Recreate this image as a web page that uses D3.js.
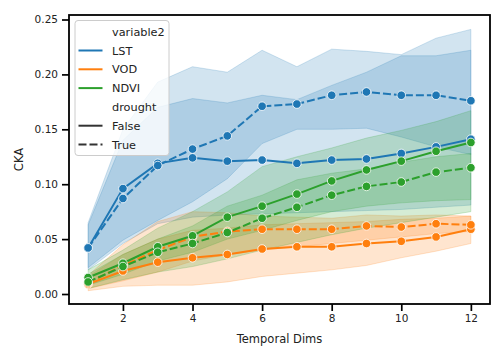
<!DOCTYPE html>
<html>
<head>
<meta charset="utf-8">
<script src="https://cdn.jsdelivr.net/npm/d3@7"></script>
<style>
  body { margin: 0; background: #fff; }
  svg { font-family: "DejaVu Sans", sans-serif; }
</style>
</head>
<body>
<div id="chart"></div>
<script>
// temporal dims on the x axis
const dims = [1, 2, 3, 4, 5, 6, 7, 8, 9, 10, 11, 12];
const variables = ["LST", "VOD", "NDVI"];
const droughtLevels = ["False", "True"];
const xTicks = [2, 4, 6, 8, 10, 12];
const yTicks = [0, 0.05, 0.1, 0.15, 0.2, 0.25];

// mean CKA and confidence band per (variable, drought)
const lstFalseMean = [0.042, 0.096, 0.119, 0.124, 0.121, 0.122, 0.119, 0.122, 0.123, 0.128, 0.134, 0.141];
const lstFalseLow = [0.022, 0.046, 0.064, 0.070, 0.072, 0.073, 0.074, 0.075, 0.076, 0.077, 0.079, 0.081];
const lstFalseHigh = [0.063, 0.140, 0.170, 0.178, 0.174, 0.181, 0.177, 0.190, 0.202, 0.217, 0.217, 0.222];

const lstTrueMean = [0.042, 0.087, 0.117, 0.132, 0.144, 0.171, 0.173, 0.181, 0.184, 0.181, 0.181, 0.176];
const lstTrueLow = [0.024, 0.049, 0.067, 0.084, 0.105, 0.137, 0.150, 0.150, 0.151, 0.143, 0.134, 0.127];
const lstTrueHigh = [0.065, 0.150, 0.193, 0.207, 0.202, 0.222, 0.207, 0.223, 0.221, 0.218, 0.233, 0.241];

const vodFalseMean = [0.009, 0.021, 0.029, 0.033, 0.036, 0.041, 0.043, 0.043, 0.046, 0.048, 0.052, 0.059];
const vodFalseLow = [0.003, 0.007, 0.008, 0.008, 0.011, 0.016, 0.019, 0.022, 0.026, 0.033, 0.039, 0.046];
const vodFalseHigh = [0.016, 0.036, 0.050, 0.058, 0.060, 0.063, 0.064, 0.065, 0.066, 0.068, 0.069, 0.071];

const vodTrueMean = [0.010, 0.026, 0.040, 0.052, 0.057, 0.059, 0.059, 0.059, 0.062, 0.061, 0.064, 0.063];
const vodTrueLow = [0.005, 0.012, 0.020, 0.030, 0.036, 0.040, 0.043, 0.046, 0.049, 0.052, 0.055, 0.057];
const vodTrueHigh = [0.017, 0.045, 0.066, 0.075, 0.074, 0.071, 0.070, 0.069, 0.072, 0.071, 0.072, 0.071];

const ndviFalseMean = [0.015, 0.028, 0.043, 0.053, 0.070, 0.080, 0.091, 0.103, 0.113, 0.121, 0.130, 0.138];
const ndviFalseLow = [0.008, 0.018, 0.030, 0.038, 0.050, 0.058, 0.067, 0.075, 0.080, 0.083, 0.085, 0.086];
const ndviFalseHigh = [0.022, 0.040, 0.060, 0.075, 0.093, 0.116, 0.125, 0.133, 0.142, 0.149, 0.157, 0.167];

const ndviTrueMean = [0.011, 0.025, 0.038, 0.046, 0.056, 0.069, 0.079, 0.090, 0.098, 0.102, 0.111, 0.115];
const ndviTrueLow = [0.005, 0.013, 0.020, 0.025, 0.032, 0.040, 0.047, 0.054, 0.060, 0.065, 0.070, 0.075];
const ndviTrueHigh = [0.018, 0.036, 0.050, 0.062, 0.080, 0.090, 0.104, 0.110, 0.114, 0.120, 0.125, 0.128];

const colors = { LST: "#1f77b4", VOD: "#ff7f0e", NDVI: "#2ca02c" };

// build the series table, same order seaborn draws them
const series = [
  { v: "LST", d: "False", mean: lstFalseMean, lo: lstFalseLow, hi: lstFalseHigh },
  { v: "LST", d: "True", mean: lstTrueMean, lo: lstTrueLow, hi: lstTrueHigh },
  { v: "VOD", d: "False", mean: vodFalseMean, lo: vodFalseLow, hi: vodFalseHigh },
  { v: "VOD", d: "True", mean: vodTrueMean, lo: vodTrueLow, hi: vodTrueHigh },
  { v: "NDVI", d: "False", mean: ndviFalseMean, lo: ndviFalseLow, hi: ndviFalseHigh },
  { v: "NDVI", d: "True", mean: ndviTrueMean, lo: ndviTrueLow, hi: ndviTrueHigh },
].map((s) => ({
  ...s,
  points: dims.map((t, i) => ({ t, y: s.mean[i], lo: s.lo[i], hi: s.hi[i] })),
}));

// svg dimensions and axes box
const W = 504;
const H = 360;
const mLeft = 69, mRight = 490, mTop = 15, mBottom = 304;

const svg = d3
  .select("#chart")
  .append("svg")
  .attr("width", W)
  .attr("height", H);

const xScale = d3.scaleLinear().domain([0.45, 12.55]).range([mLeft, mRight]);
const yScale = d3.scaleLinear().domain([-0.0091, 0.2541]).range([mBottom, mTop]);

const line = d3
  .line()
  .x((d) => xScale(d.t))
  .y((d) => yScale(d.y));

const area = d3
  .area()
  .x((d) => xScale(d.t))
  .y0((d) => yScale(d.lo))
  .y1((d) => yScale(d.hi));

const dashFor = (d) => (d === "True" ? "8,3" : null);

// bands first (they sit under every line)
svg
  .append("g")
  .selectAll("path")
  .data(series)
  .enter()
  .append("path")
  .attr("d", (s) => area(s.points))
  .attr("fill", (s) => colors[s.v])
  .attr("fill-opacity", 0.2)
  .attr("stroke", (s) => colors[s.v])
  .attr("stroke-opacity", 0.2)
  .attr("stroke-width", 1);

// lines with markers
series.forEach((s) => {
  const g = svg.append("g");
  g.append("path")
    .attr("d", line(s.points))
    .attr("fill", "none")
    .attr("stroke", colors[s.v])
    .attr("stroke-width", 2)
    .attr("stroke-dasharray", dashFor(s.d));

  g.selectAll("circle")
    .data(s.points)
    .enter()
    .append("circle")
    .attr("cx", (d) => xScale(d.t))
    .attr("cy", (d) => yScale(d.y))
    .attr("r", 4.3)
    .attr("fill", colors[s.v])
    .attr("stroke", "#fff")
    .attr("stroke-width", 0.8);
});

// axes
const xAxis = d3.axisBottom(xScale).tickValues(xTicks).tickSize(7).tickPadding(4).tickFormat(d3.format("d"));
const yAxis = d3.axisLeft(yScale).tickValues(yTicks).tickSize(7).tickPadding(4).tickFormat(d3.format(".2f"));

const gx = svg.append("g").attr("transform", `translate(0, ${mBottom})`).call(xAxis);
const gy = svg.append("g").attr("transform", `translate(${mLeft}, 0)`).call(yAxis);

[gx, gy].forEach((g) => {
  g.select(".domain").remove();
  g.selectAll(".tick line").attr("stroke", "#000").attr("stroke-width", 1.7);
  g.selectAll(".tick text")
    .attr("fill", "#222")
    .style("font-size", "10.5px")
    .style("font-family", "DejaVu Sans");
});

// frame
svg
  .append("rect")
  .attr("x", mLeft)
  .attr("y", mTop)
  .attr("width", mRight - mLeft)
  .attr("height", mBottom - mTop)
  .attr("fill", "none")
  .attr("stroke", "#000")
  .attr("stroke-width", 1.8);

// axis labels
svg
  .append("text")
  .attr("x", (mLeft + mRight) / 2)
  .attr("y", 343)
  .attr("text-anchor", "middle")
  .style("font-size", "11.5px")
  .attr("fill", "#222")
  .text("Temporal Dims");

svg
  .append("text")
  .attr("transform", `translate(23, ${(mTop + mBottom) / 2})rotate(-90)`)
  .attr("text-anchor", "middle")
  .style("font-size", "11.5px")
  .attr("fill", "#222")
  .text("CKA");

// legend
const legend = svg.append("g");
legend
  .append("rect")
  .attr("x", 75)
  .attr("y", 20.5)
  .attr("width", 94)
  .attr("height", 135)
  .attr("rx", 3)
  .attr("fill", "#fff")
  .attr("fill-opacity", 0.8)
  .attr("stroke", "#ccc")
  .attr("stroke-width", 1);

const legendItems = [
  { label: "variable2" },
  ...variables.map((v) => ({ label: v, color: colors[v], dash: null })),
  { label: "drought" },
  ...droughtLevels.map((d) => ({ label: d, color: "#333", dash: dashFor(d) })),
];

legendItems.forEach((it, i) => {
  const cy = 31.7 + i * 18.8;
  if (it.color) {
    legend
      .append("line")
      .attr("x1", 78.5)
      .attr("x2", 102.5)
      .attr("y1", cy)
      .attr("y2", cy)
      .attr("stroke", it.color)
      .attr("stroke-width", 2)
      .attr("stroke-dasharray", it.dash);
  }
  legend
    .append("text")
    .attr("x", 112)
    .attr("y", cy + 4)
    .style("font-size", "11.3px")
    .attr("fill", "#222")
    .text(it.label);
});
</script>
</body>
</html>
